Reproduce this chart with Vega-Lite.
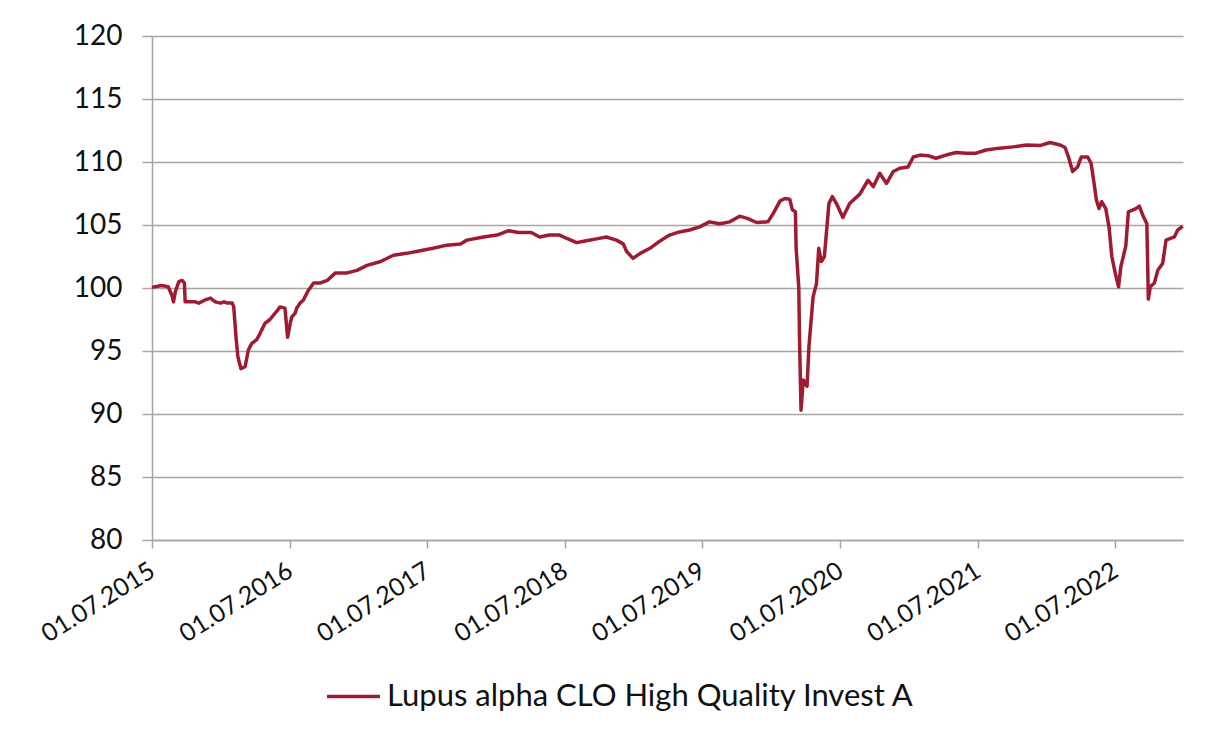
{
  "$schema": "https://vega.github.io/schema/vega-lite/v6.json",
  "width": 1031,
  "height": 504,
  "autosize": {"type": "none"},
  "padding": {"left": 152, "top": 36, "right": 39, "bottom": 194},
  "background": "white",
  "config": {
    "view": {"stroke": null},
    "font": "Lato",
    "axis": {"labelFont": "Lato", "labelColor": "#111111", "domainColor": "#a8a4a0", "tickColor": "#a8a4a0", "gridColor": "#a8a4a0", "domainWidth": 1.5, "tickWidth": 1.5, "gridWidth": 1.5}
  },
  "data": {"values": [
    {"date": "2015-07-01", "value": 100.05},
    {"date": "2015-07-26", "value": 100.2},
    {"date": "2015-08-13", "value": 100.1},
    {"date": "2015-08-23", "value": 99.4},
    {"date": "2015-08-27", "value": 98.9},
    {"date": "2015-09-01", "value": 99.7},
    {"date": "2015-09-10", "value": 100.5},
    {"date": "2015-09-19", "value": 100.6},
    {"date": "2015-09-25", "value": 100.4},
    {"date": "2015-09-27", "value": 98.9},
    {"date": "2015-10-24", "value": 98.9},
    {"date": "2015-11-02", "value": 98.8},
    {"date": "2015-11-19", "value": 99.05},
    {"date": "2015-12-03", "value": 99.2},
    {"date": "2015-12-16", "value": 98.9},
    {"date": "2015-12-30", "value": 98.8},
    {"date": "2016-01-08", "value": 98.9},
    {"date": "2016-01-17", "value": 98.8},
    {"date": "2016-01-30", "value": 98.8},
    {"date": "2016-02-03", "value": 98.5},
    {"date": "2016-02-09", "value": 96.1},
    {"date": "2016-02-14", "value": 94.55},
    {"date": "2016-02-22", "value": 93.6},
    {"date": "2016-03-04", "value": 93.75},
    {"date": "2016-03-13", "value": 95.1},
    {"date": "2016-03-22", "value": 95.6},
    {"date": "2016-04-04", "value": 95.9},
    {"date": "2016-04-13", "value": 96.4},
    {"date": "2016-04-26", "value": 97.2},
    {"date": "2016-05-09", "value": 97.5},
    {"date": "2016-05-23", "value": 98.0},
    {"date": "2016-06-05", "value": 98.5},
    {"date": "2016-06-18", "value": 98.4},
    {"date": "2016-06-25", "value": 96.1},
    {"date": "2016-07-02", "value": 97.2},
    {"date": "2016-07-06", "value": 97.7},
    {"date": "2016-07-15", "value": 98.0},
    {"date": "2016-07-19", "value": 98.4},
    {"date": "2016-07-28", "value": 98.8},
    {"date": "2016-08-06", "value": 99.05},
    {"date": "2016-08-10", "value": 99.3},
    {"date": "2016-08-19", "value": 99.8},
    {"date": "2016-09-02", "value": 100.4},
    {"date": "2016-09-20", "value": 100.4},
    {"date": "2016-10-08", "value": 100.6},
    {"date": "2016-10-30", "value": 101.2},
    {"date": "2016-11-30", "value": 101.2},
    {"date": "2016-12-26", "value": 101.4},
    {"date": "2017-01-22", "value": 101.8},
    {"date": "2017-02-27", "value": 102.1},
    {"date": "2017-04-02", "value": 102.6},
    {"date": "2017-05-07", "value": 102.75},
    {"date": "2017-06-12", "value": 102.95},
    {"date": "2017-07-16", "value": 103.15},
    {"date": "2017-08-22", "value": 103.4},
    {"date": "2017-09-27", "value": 103.5},
    {"date": "2017-10-14", "value": 103.8},
    {"date": "2017-11-27", "value": 104.05},
    {"date": "2018-01-02", "value": 104.2},
    {"date": "2018-02-02", "value": 104.55},
    {"date": "2018-02-28", "value": 104.4},
    {"date": "2018-04-03", "value": 104.4},
    {"date": "2018-04-25", "value": 104.05},
    {"date": "2018-05-21", "value": 104.2},
    {"date": "2018-06-17", "value": 104.2},
    {"date": "2018-07-05", "value": 103.95},
    {"date": "2018-08-01", "value": 103.6},
    {"date": "2018-08-27", "value": 103.75},
    {"date": "2018-09-23", "value": 103.9},
    {"date": "2018-10-19", "value": 104.05},
    {"date": "2018-11-15", "value": 103.8},
    {"date": "2018-12-03", "value": 103.5},
    {"date": "2018-12-12", "value": 102.9},
    {"date": "2018-12-29", "value": 102.35},
    {"date": "2019-01-17", "value": 102.75},
    {"date": "2019-02-12", "value": 103.15},
    {"date": "2019-03-09", "value": 103.7},
    {"date": "2019-04-05", "value": 104.2},
    {"date": "2019-05-01", "value": 104.45},
    {"date": "2019-05-28", "value": 104.6},
    {"date": "2019-06-24", "value": 104.85},
    {"date": "2019-07-20", "value": 105.25},
    {"date": "2019-08-16", "value": 105.1},
    {"date": "2019-09-12", "value": 105.25},
    {"date": "2019-10-08", "value": 105.7},
    {"date": "2019-10-30", "value": 105.5},
    {"date": "2019-11-22", "value": 105.2},
    {"date": "2019-12-22", "value": 105.25},
    {"date": "2020-01-05", "value": 105.9},
    {"date": "2020-01-23", "value": 106.9},
    {"date": "2020-02-05", "value": 107.1},
    {"date": "2020-02-18", "value": 107.05},
    {"date": "2020-02-25", "value": 106.2},
    {"date": "2020-03-04", "value": 106.05},
    {"date": "2020-03-06", "value": 103.15},
    {"date": "2020-03-13", "value": 100.05},
    {"date": "2020-03-15", "value": 95.9},
    {"date": "2020-03-19", "value": 90.3},
    {"date": "2020-03-25", "value": 92.7},
    {"date": "2020-04-04", "value": 92.2},
    {"date": "2020-04-09", "value": 95.35},
    {"date": "2020-04-20", "value": 99.3},
    {"date": "2020-04-29", "value": 100.35},
    {"date": "2020-05-05", "value": 103.15},
    {"date": "2020-05-12", "value": 102.1},
    {"date": "2020-05-20", "value": 102.5},
    {"date": "2020-06-01", "value": 106.7},
    {"date": "2020-06-10", "value": 107.25},
    {"date": "2020-06-21", "value": 106.7},
    {"date": "2020-07-08", "value": 105.6},
    {"date": "2020-07-26", "value": 106.7},
    {"date": "2020-08-22", "value": 107.45},
    {"date": "2020-09-13", "value": 108.55},
    {"date": "2020-09-27", "value": 108.05},
    {"date": "2020-10-14", "value": 109.1},
    {"date": "2020-11-01", "value": 108.3},
    {"date": "2020-11-19", "value": 109.25},
    {"date": "2020-12-06", "value": 109.5},
    {"date": "2020-12-28", "value": 109.6},
    {"date": "2021-01-11", "value": 110.4},
    {"date": "2021-01-29", "value": 110.55},
    {"date": "2021-02-19", "value": 110.5},
    {"date": "2021-03-12", "value": 110.3},
    {"date": "2021-04-08", "value": 110.55},
    {"date": "2021-05-05", "value": 110.75},
    {"date": "2021-06-01", "value": 110.7},
    {"date": "2021-06-27", "value": 110.7},
    {"date": "2021-07-23", "value": 110.95},
    {"date": "2021-08-28", "value": 111.1},
    {"date": "2021-10-03", "value": 111.2},
    {"date": "2021-11-08", "value": 111.35},
    {"date": "2021-12-13", "value": 111.3},
    {"date": "2022-01-09", "value": 111.55},
    {"date": "2022-02-05", "value": 111.35},
    {"date": "2022-02-18", "value": 111.15},
    {"date": "2022-02-27", "value": 110.4},
    {"date": "2022-03-10", "value": 109.25},
    {"date": "2022-03-23", "value": 109.6},
    {"date": "2022-04-02", "value": 110.4},
    {"date": "2022-04-19", "value": 110.4},
    {"date": "2022-04-28", "value": 109.9},
    {"date": "2022-05-06", "value": 108.3},
    {"date": "2022-05-12", "value": 107.0},
    {"date": "2022-05-19", "value": 106.3},
    {"date": "2022-05-26", "value": 106.85},
    {"date": "2022-06-06", "value": 106.3},
    {"date": "2022-06-15", "value": 104.75},
    {"date": "2022-06-22", "value": 102.5},
    {"date": "2022-07-01", "value": 101.2},
    {"date": "2022-07-10", "value": 100.1},
    {"date": "2022-07-16", "value": 101.7},
    {"date": "2022-07-29", "value": 103.3},
    {"date": "2022-08-05", "value": 106.05},
    {"date": "2022-08-25", "value": 106.3},
    {"date": "2022-09-03", "value": 106.5},
    {"date": "2022-09-12", "value": 105.8},
    {"date": "2022-09-23", "value": 105.1},
    {"date": "2022-09-27", "value": 99.1},
    {"date": "2022-10-02", "value": 100.1},
    {"date": "2022-10-13", "value": 100.4},
    {"date": "2022-10-22", "value": 101.4},
    {"date": "2022-11-04", "value": 101.95},
    {"date": "2022-11-13", "value": 103.8},
    {"date": "2022-12-05", "value": 104.05},
    {"date": "2022-12-14", "value": 104.6},
    {"date": "2022-12-27", "value": 104.9}
  ]},
  "mark": {"type": "line", "strokeWidth": 3.5, "strokeJoin": "round"},
  "encoding": {
    "x": {
      "field": "date", "type": "temporal",
      "scale": {"domain": ["2015-07-01", "2022-12-28"], "nice": false},
      "axis": {
        "title": null, "grid": false,
        "values": ["2015-07-01", "2016-07-01", "2017-07-01", "2018-07-01", "2019-07-01", "2020-07-01", "2021-07-01", "2022-07-01"],
        "format": "%d.%m.%Y", "labelAngle": -32, "labelAlign": "right", "labelBaseline": "middle",
        "labelFontSize": 25, "tickSize": 8, "labelPadding": 20, "labelOverlap": false, "labelBound": false, "labelFlush": false
      }
    },
    "y": {
      "field": "value", "type": "quantitative",
      "scale": {"domain": [80, 120], "nice": false, "zero": false},
      "axis": {"title": null, "values": [80, 85, 90, 95, 100, 105, 110, 115, 120], "tickSize": 10, "labelPadding": 20, "labelFontSize": 28, "gridWidth": 1.5}
    },
    "color": {
      "datum": "Lupus alpha CLO High Quality Invest A",
      "scale": {"range": ["#9e1b32"]},
      "legend": {"title": null, "orient": "none", "legendX": 173, "legendY": 632, "labelFontSize": 31, "labelLimit": 0, "labelColor": "#111111", "symbolType": "stroke", "symbolSize": 2800, "symbolStrokeWidth": 3.5, "labelOffset": 5}
    }
  }
}
